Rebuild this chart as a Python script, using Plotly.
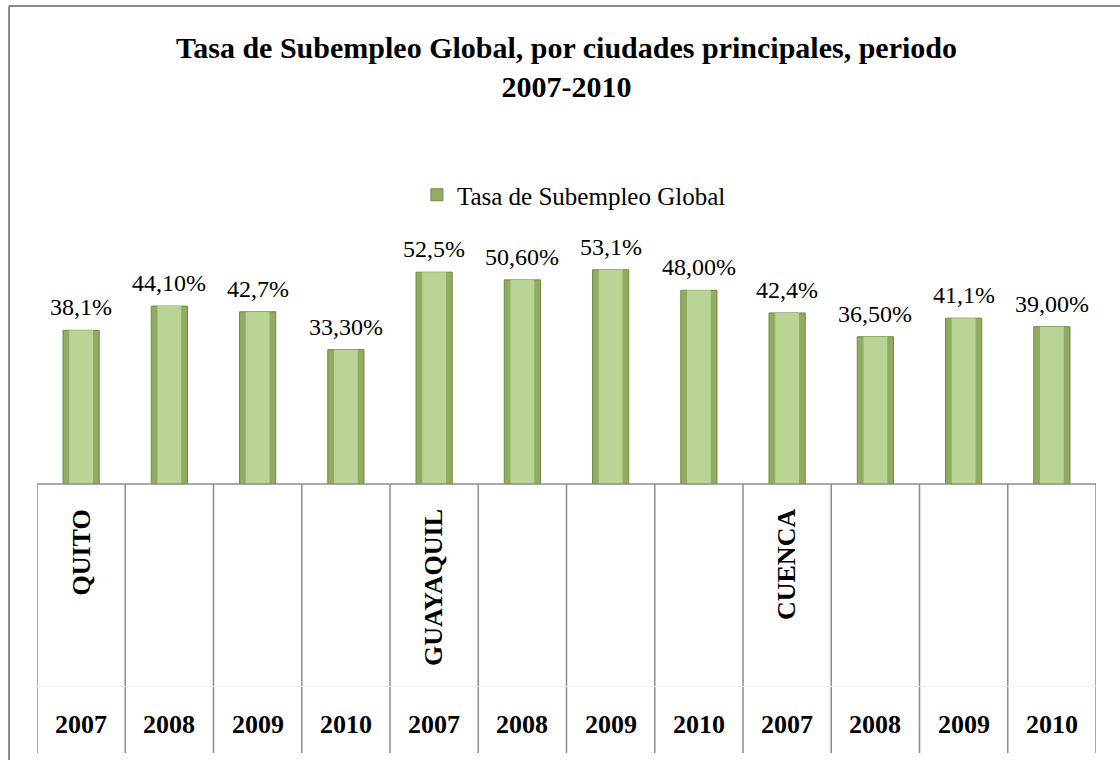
import plotly.graph_objects as go

# datos
cities = ["QUITO", "GUAYAQUIL", "CUENCA"]
years = ["2007", "2008", "2009", "2010"]
rates = [38.1, 44.1, 42.7, 33.3, 52.5, 50.6, 53.1, 48.0, 42.4, 36.5, 41.1, 39.0]
rate_labels = ["38,1%", "44,10%", "42,7%", "33,30%", "52,5%", "50,60%",
               "53,1%", "48,00%", "42,4%", "36,50%", "41,1%", "39,00%"]

cats = [f"{c} {y}" for c in cities for y in years]
FONT = "Liberation Serif, Times New Roman, serif"

fig = go.Figure()

# barra exterior (bordes oscuros) + barra interior clara para el efecto de relieve
fig.add_trace(go.Bar(
    x=cats, y=rates, name="Tasa de Subempleo Global",
    width=0.41, marker=dict(color="#8fac60", line=dict(color="#6f8a45", width=1)),
))
fig.add_trace(go.Bar(
    x=cats, y=rates, width=0.27, showlegend=False, hoverinfo="skip",
    marker=dict(color="#bad495", line=dict(width=0)),
))

# tabla de categorias bajo el eje
n = len(cats)
shapes = []
for i in range(n + 1):
    shapes.append(dict(type="line", xref="x", yref="paper", x0=i - 0.5, x1=i - 0.5,
                       y0=0, y1=-1.15, line=dict(color="#8c8c8c", width=1.5)))
shapes.append(dict(type="line", xref="x", yref="paper", x0=-0.5, x1=n - 0.5,
                   y0=0, y1=0, line=dict(color="#8c8c8c", width=1.5)))
shapes.append(dict(type="line", xref="x", yref="paper", x0=-0.5, x1=n - 0.5,
                   y0=-0.865, y1=-0.865, line=dict(color="#eeeeee", width=1)))
# borde exterior del grafico
shapes.append(dict(type="line", xref="paper", yref="paper", x0=-0.0264, x1=-0.0264,
                   y0=2.043, y1=-1.2, line=dict(color="#8a8a8a", width=2)))
shapes.append(dict(type="line", xref="paper", yref="paper", x0=-0.0264, x1=1.03,
                   y0=2.043, y1=2.043, line=dict(color="#8a8a8a", width=2)))

annotations = [dict(
    xref="paper", yref="paper", x=0.5, y=1.782, xanchor="center", yanchor="middle",
    text="<b>Tasa de Subempleo Global, por ciudades principales, periodo<br>2007-2010</b>",
    showarrow=False, font=dict(family=FONT, size=30, color="black"),
)]
# etiquetas de valor sobre las barras
for c, v, lab in zip(cats, rates, rate_labels):
    annotations.append(dict(x=c, y=v, xref="x", yref="y", yanchor="bottom", yshift=8,
                            text=lab, showarrow=False,
                            font=dict(family=FONT, size=24, color="black")))
for c in cats:
    city, year = c.split(" ")
    annotations.append(dict(x=c, xref="x", yref="paper", y=-1.026, yanchor="middle",
                            text=f"<b>{year}</b>", showarrow=False,
                            font=dict(family=FONT, size=26, color="black")))
    if year == years[0]:
        annotations.append(dict(x=c, xref="x", yref="paper", y=-0.1, yanchor="top",
                                text=f"<b>{city}</b>", textangle=-90, showarrow=False,
                                font=dict(family=FONT, size=26, color="black")))

fig.update_layout(
    width=1120, height=760,
    margin=dict(l=37, r=24, t=250, b=276),
    paper_bgcolor="white", plot_bgcolor="white",
    font=dict(family=FONT, color="black"),
    barmode="overlay",
    legend=dict(orientation="h", x=0.507, xanchor="center", y=1.235, yanchor="middle",
                font=dict(family=FONT, size=25, color="black"), itemwidth=30),
    xaxis=dict(showticklabels=False, showgrid=False, zeroline=False, showline=False,
               range=[-0.5, n - 0.5]),
    yaxis=dict(range=[0, 58], visible=False),
    shapes=shapes, annotations=annotations,
    showlegend=True,
)

fig.write_html("out.html", config={"displayModeBar": False},
               post_script="document.body.style.margin='0';")
